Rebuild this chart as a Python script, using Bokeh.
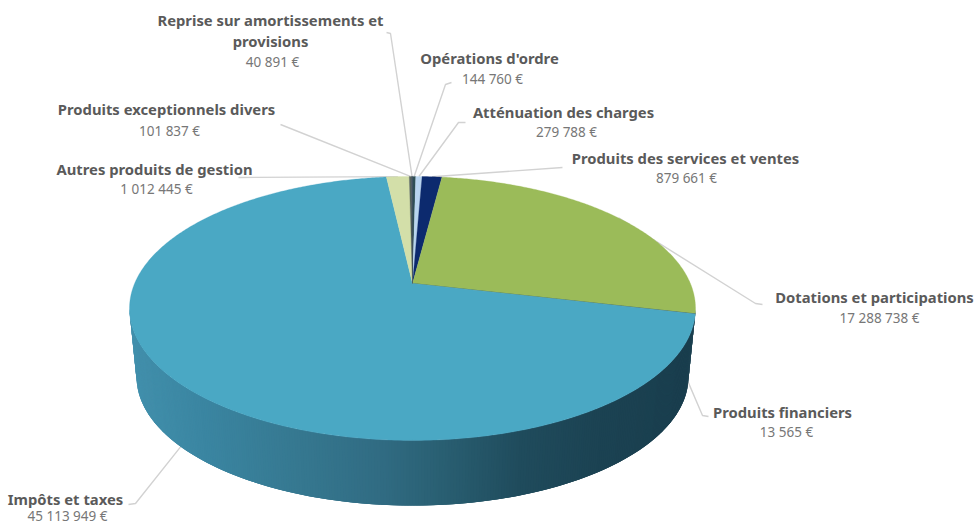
import numpy as np
from bokeh.core.properties import value
from bokeh.embed import file_html
from bokeh.models import Range1d
from bokeh.plotting import figure
from bokeh.resources import INLINE

# ---- chart data, clockwise from twelve o'clock
categories = ["Opérations d'ordre", "Atténuation des charges", "Produits des services et ventes",
              "Dotations et participations", "Produits financiers", "Impôts et taxes",
              "Autres produits de gestion", "Produits exceptionnels divers",
              "Reprise sur amortissements et provisions"]
amounts = [144760, 279788, 879661, 17288738, 13565, 45113949, 1012445, 101837, 40891]
colors = ["#2f4f55", "#b9d5ef", "#0c2a6e", "#9bbb59", "#1f4f60", "#4aa8c4", "#d3dfa9", "#56635a", "#26384a"]

# ---- layout: perspective projection of the pie
CX, APEX_Y = 412.0, 283.0
K, A = 0.189, 127.3
B = 277.9
SHRINK, DEPTH = 0.975, 69.0


def top_pt(theta):
    u, v = np.sin(theta), np.cos(theta)
    d = 1 + K * v
    return CX + B * u / d, APEX_Y - A * v / d


def bot_pt(theta):
    x, y = top_pt(theta)
    return CX + (x - CX) * SHRINK, APEX_Y + DEPTH + (y - APEX_Y) * SHRINK


fracs = np.array(amounts, dtype=float) / sum(amounts)
edges = np.concatenate([[0.0], np.cumsum(fracs)]) * 2 * np.pi
mids = (edges[:-1] + edges[1:]) / 2

p = figure(width=975, height=525, x_range=Range1d(0, 975), y_range=Range1d(525, 0),
           output_backend="svg", toolbar_location=None, min_border=0,
           background_fill_color="white", border_fill_color="white")
p.axis.visible = False
p.grid.visible = False
p.outline_line_color = None
p.styles = {"position": "absolute", "left": "0px", "top": "0px"}

# ---- leader lines (behind the pie): from the slice to the label
leader_elbows = {
    0: [(445, 84), (451, 82)],
    1: [(458, 122), (465, 122)],
    2: [(562, 167)],
    3: [(755, 303), (762, 304)],
    4: [(702, 415), (708, 416)],
    5: [(135, 503), (128, 504)],
    6: [(238, 177)],
    7: [(280, 124)],
    8: [(390, 33), (386, 32)],
}
from_bottom = {4, 5}
lx, ly = [], []
for i, elbow in leader_elbows.items():
    sx0, sy0 = bot_pt(mids[i]) if i in from_bottom else top_pt(mids[i])
    lx.append([sx0] + [e[0] for e in elbow])
    ly.append([sy0] + [e[1] for e in elbow])
p.multi_line(lx, ly, line_color="#d2d2d2", line_width=1.4)

# ---- side wall as thin strips, shaded along x
stop_x = [129, 200, 300, 380, 440, 520, 600, 695]
stop_r = [0x42, 0x3b, 0x36, 0x31, 0x2a, 0x20, 0x1c, 0x1a]
stop_g = [0x90, 0x86, 0x78, 0x6c, 0x60, 0x4c, 0x43, 0x3e]
stop_b = [0xac, 0xa2, 0x90, 0x83, 0x73, 0x5d, 0x53, 0x4e]
thetas = np.radians(np.linspace(101.0, 259.0, 317))
sx, sy, sc = [], [], []
for t0, t1 in zip(thetas[:-1], thetas[1:]):
    t2 = min(t1 + 2 * (t1 - t0), thetas[-1])
    a, b = top_pt(t0), top_pt(t2)
    c, d = bot_pt(t2), bot_pt(t0)
    sx.append([a[0], b[0], c[0], d[0]])
    sy.append([a[1], b[1], c[1], d[1]])
    xm = top_pt((t0 + t1) / 2)[0]
    sc.append("#%02x%02x%02x" % (int(np.interp(xm, stop_x, stop_r)),
                                 int(np.interp(xm, stop_x, stop_g)),
                                 int(np.interp(xm, stop_x, stop_b))))
p.patches(sx, sy, fill_color=sc, line_color=None)

# ---- top face, one slice per value
px, py = [], []
for i in range(len(amounts)):
    n = max(3, int(np.degrees(edges[i + 1] - edges[i]) * 2))
    arc = np.linspace(edges[i], edges[i + 1], n)
    ax, ay = top_pt(arc)
    px.append(np.concatenate([[CX], ax]).tolist())
    py.append(np.concatenate([[APEX_Y], ay]).tolist())
p.patches(px, py, fill_color=colors, line_color=colors, line_width=0.3)

# ---- labels
fmt = lambda v: f"{v:,}".replace(",", " ") + " €"
title_lines = [[c] for c in categories]
title_lines[8] = ["Reprise sur amortissements et", "provisions"]
title_pos = [(489, [57]), (563, [111]), (685, [157]), (874, [296]), (782, [411]),
             (65, [498]), (154, [168]), (166, [108]), (270, [19, 40])]
value_pos = [(492, 78), (566, 131), (686, 177), (879, 317), (786, 431),
             (67, 515), (156, 188), (169, 130), (272, 61)]
tx, ty, tt = [], [], []
for (x, ys), lines in zip(title_pos, title_lines):
    for y, line in zip(ys, lines):
        tx.append(x); ty.append(y); tt.append(line)
p.text(tx, ty, text=tt, text_font=value("Noto Sans"), text_font_size="14.8px",
       text_font_style="bold", text_color="#5a5a5a", text_align="center", text_baseline="middle")
p.text([v[0] for v in value_pos], [v[1] for v in value_pos], text=[fmt(a) for a in amounts],
       text_font=value("Noto Sans"), text_font_size="13.5px",
       text_color="#777777", text_align="center", text_baseline="middle")

open("out.html", "w").write(file_html(p, INLINE))
